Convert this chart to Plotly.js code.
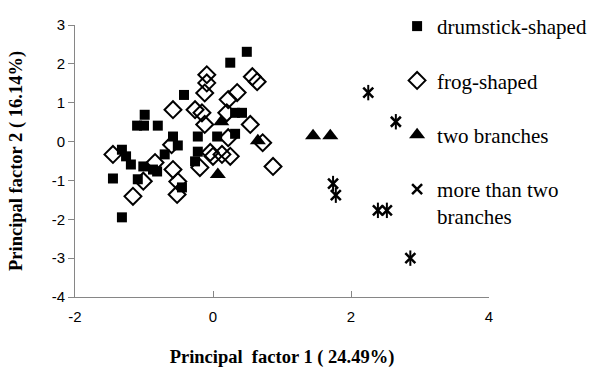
<!DOCTYPE html>
<html><head><meta charset="utf-8">
<script src="https://cdn.plot.ly/plotly-3.0.1.min.js"></script>
<style>html,body{margin:0;padding:0;background:#fff}</style>
</head><body><div id="chart" style="width:598px;height:368px"></div>
<script>
const seriesNames = ["drumstick-shaped", "frog-shaped", "two branches", "more than two<br>branches"];

const drumX = [0.49,0.25,-0.42,-0.99,-1.10,-1.00,-0.80,-0.58,-0.22,0.06,0.32,0.32,0.42,-0.51,-0.70,-0.22,-0.26,-1.32,-1.26,-1.19,-1.01,-0.87,-0.81,-1.09,-1.45,-1.32,-0.45];
const drumY = [2.31,2.03,1.20,0.69,0.41,0.41,0.41,0.13,0.13,0.13,0.20,0.74,0.74,-0.10,-0.33,-0.26,-0.51,-0.21,-0.38,-0.59,-0.64,-0.72,-0.77,-0.97,-0.95,-1.95,-1.18];

const frogX = [-0.09,-0.09,-0.12,0.57,0.64,0.35,0.22,-0.58,-0.26,-0.16,-0.12,0.20,0.54,0.22,0.72,0.25,0.87,-1.45,-0.84,-1.01,-1.16,-0.58,-0.19,-0.04,0.00,-0.51,-0.52,-0.60,0.13];
const frogY = [1.72,1.51,1.25,1.67,1.54,1.26,1.08,0.82,0.82,0.74,0.44,0.74,0.44,0.10,-0.03,-0.38,-0.64,-0.33,-0.54,-1.02,-1.41,-0.72,-0.67,-0.28,-0.38,-1.03,-1.36,-0.08,-0.33];

const twoX = [1.45,1.70,0.12,0.65,0.07];
const twoY = [0.15,0.15,0.51,0.02,-0.85];

const moreX = [2.25,2.65,1.74,1.78,2.39,2.52,2.86];
const moreY = [1.26,0.51,-1.08,-1.38,-1.77,-1.77,-3.00];

const xTicks = [-2,0,2,4];
const yTicks = [-4,-3,-2,-1,0,1,2,3];

const serif = "Liberation Serif";
const sans = "Liberation Sans";

const traces = [
  {x: drumX, y: drumY, name: seriesNames[0], legendgroup: "a", type: "scatter", mode: "markers",
   marker: {symbol: "square", size: 10, color: "#000"}},
  {x: frogX, y: frogY, name: seriesNames[1], legendgroup: "b", type: "scatter", mode: "markers",
   marker: {symbol: "diamond-open", size: 13, color: "#000", line: {width: 2, color: "#000"}}},
  {x: twoX, y: twoY, name: seriesNames[2], legendgroup: "c", type: "scatter", mode: "markers",
   marker: {symbol: "triangle-up", size: 14, color: "#000"}},
  {x: moreX, y: moreY, name: seriesNames[3], legendgroup: "d", type: "scatter", mode: "markers",
   marker: {symbol: "x-thin-open", size: 10, color: "#000", line: {width: 2.5, color: "#000"}}},
  {x: moreX, y: moreY, name: seriesNames[3], legendgroup: "d", showlegend: false, type: "scatter", mode: "markers",
   marker: {symbol: "line-ns-open", size: 11, color: "#000", line: {width: 2, color: "#000"}}}
];

const layout = {
  width: 598, height: 368,
  margin: {l: 75, r: 109, t: 25, b: 71, autoexpand: false},
  paper_bgcolor: "#fff", plot_bgcolor: "#fff",
  font: {family: serif, size: 16, color: "#000"},
  showlegend: true,
  legend: {x: 0.778, xanchor: "left", y: 1.07, yanchor: "top",
    font: {family: serif, size: 21, color: "#000"},
    bgcolor: "rgba(0,0,0,0)", tracegroupgap: 24, itemwidth: 30, valign: "top", maxheight: 500},
  xaxis: {range: [-2, 4], tickvals: xTicks, ticktext: xTicks.map(String), automargin: false,
    showgrid: false, zeroline: false, showline: true, linecolor: "#868686", linewidth: 1,
    ticks: "inside", ticklen: 6, tickcolor: "#868686", ticklabelstandoff: 6,
    tickfont: {family: sans, size: 15, color: "#000"},
    title: {text: "Principal  factor 1 ( 24.49%)", font: {family: serif, size: 18.5, color: "#000", weight: "bold"}, standoff: 26}},
  yaxis: {range: [-4, 3], tickvals: yTicks, ticktext: yTicks.map(String), automargin: false,
    showgrid: false, zeroline: false, showline: true, linecolor: "#868686", linewidth: 1,
    ticks: "outside", ticklen: 6, tickcolor: "#868686",
    tickfont: {family: sans, size: 15, color: "#000"},
    title: {text: "Principal factor 2 ( 16.14%)", font: {family: serif, size: 18.5, color: "#000", weight: "bold"}, standoff: 24}}
};

Plotly.newPlot("chart", traces, layout, {displayModeBar: false, staticPlot: true});
</script></body></html>
